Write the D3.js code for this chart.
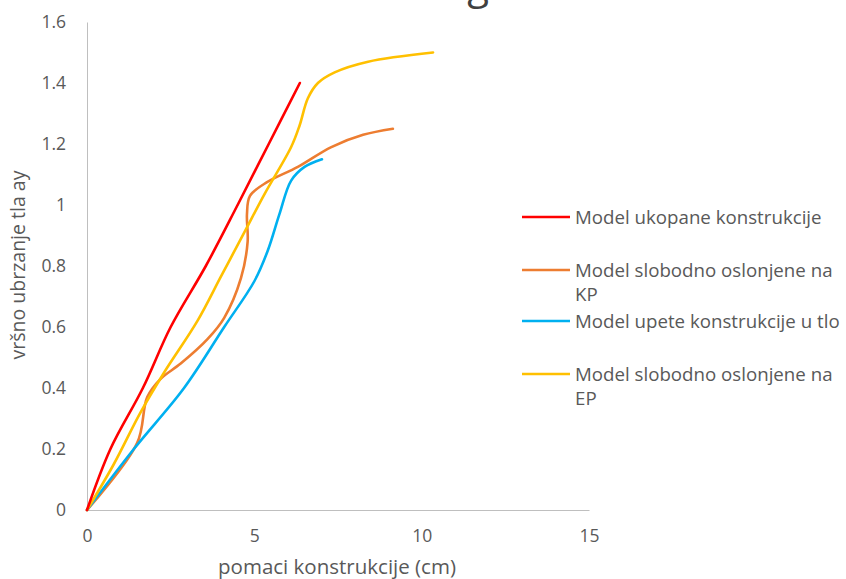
<!DOCTYPE html>
<html><head><meta charset="utf-8">
<script src="https://cdn.jsdelivr.net/npm/d3@7"></script>
<style>
body{margin:0;background:#fff;}
text{font-family:"Open Sans",sans-serif;fill:#595959;}
</style></head>
<body><svg id="chart" width="846" height="579"></svg>
<script>
const seriesNames = ["Model ukopane konstrukcije","Model slobodno oslonjene na KP","Model upete konstrukcije u tlo","Model slobodno oslonjene na EP"];
const seriesColors = ["#FF0000","#ED7D31","#00B0F0","#FFC000"];
const redX = [0,0.7,1.67,2.5,3.55,4.5,5.43,6.36];
const redY = [0,0.2,0.4,0.6,0.8,1.0,1.2,1.4];
const orangeX = [0,1.5,1.8,2.2,2.8,3.6,4.1,4.6,4.8,4.78,4.87,5.38,6.3,7.3,8.25,9.14];
const orangeY = [0,0.22,0.37,0.43,0.48,0.56,0.63,0.76,0.88,0.97,1.03,1.075,1.125,1.19,1.23,1.25];
const blueX = [0,1.4,2.9,4.1,5.0,5.4,5.75,6.1,6.5,7.02];
const blueY = [0,0.2,0.4,0.6,0.75,0.85,0.97,1.08,1.125,1.15];
const yellowX = [0,0.8,1.6,2.3,3.3,4.0,4.7,5.3,6.1,6.35,6.6,6.9,7.4,8.4,10.34];
const yellowY = [0,0.15,0.32,0.45,0.62,0.765,0.91,1.035,1.19,1.26,1.35,1.40,1.435,1.47,1.5];
const xTicks = [0,5,10,15];
const yTicks = [0,0.2,0.4,0.6,0.8,1,1.2,1.4,1.6];
const xTitle = "pomaci konstrukcije (cm)";
const yTitle = "vršno ubrzanje tla ay";
const titleFragment = "g";

const svg = d3.select("#chart");
const x = d3.scaleLinear().domain([0,15]).range([87,589]);
const y = d3.scaleLinear().domain([0,1.6]).range([510,22]);

// partial (cropped) chart title at top edge
svg.append("text").attr("x",478).attr("y",-1).attr("text-anchor","middle")
  .style("font-size","40px").style("fill","#404040").text(titleFragment);

// axes
const xAxis = svg.append("g").attr("transform","translate(0,510)")
  .call(d3.axisBottom(x).tickValues(xTicks).tickSize(0).tickPadding(20).tickFormat(d3.format("d")));
const yAxis = svg.append("g").attr("transform","translate(87,0)")
  .call(d3.axisLeft(y).tickValues(yTicks).tickSize(0).tickPadding(21).tickFormat(d=>String(d)));
[xAxis,yAxis].forEach(a=>{
  a.select(".domain").attr("stroke","#BFBFBF").attr("stroke-width",1);
  a.selectAll("text").style("font-size","17.5px").style("fill","#595959").style("font-family","Open Sans");
});
xAxis.selectAll("text").attr("dy","0.71em");

svg.append("text").attr("x",337).attr("y",574).attr("text-anchor","middle")
  .style("font-size","20.5px").text(xTitle);
svg.append("text").attr("transform","translate(25,265) rotate(-90)").attr("text-anchor","middle")
  .style("font-size","19.5px").text(yTitle);

const data = [
  redX.map((v,i)=>[v,redY[i]]),
  orangeX.map((v,i)=>[v,orangeY[i]]),
  blueX.map((v,i)=>[v,blueY[i]]),
  yellowX.map((v,i)=>[v,yellowY[i]])
];
const line = d3.line().x(d=>x(d[0])).y(d=>y(d[1])).curve(d3.curveCatmullRom.alpha(0.5));
const order = [1,2,3,0];
order.forEach(i=>{
  svg.append("path").datum(data[i]).attr("d",line).attr("fill","none")
    .attr("stroke",seriesColors[i]).attr("stroke-width",2.6).attr("stroke-linecap","round");
});

// legend
const legendY = [217,270,321,374];
const legendLines = [["Model ukopane konstrukcije"],["Model slobodno oslonjene na","KP"],["Model upete konstrukcije u tlo"],["Model slobodno oslonjene na","EP"]];
legendY.forEach((ly,i)=>{
  svg.append("line").attr("x1",522).attr("x2",570).attr("y1",ly).attr("y2",ly)
    .attr("stroke",seriesColors[i]).attr("stroke-width",2.6);
  const t = svg.append("text").attr("x",575).attr("y",ly+7).style("font-size","18.7px");
  legendLines[i].forEach((s,j)=>{
    t.append("tspan").attr("x",575).attr("dy", j===0?0:23.5).text(s);
  });
});
</script></body></html>
